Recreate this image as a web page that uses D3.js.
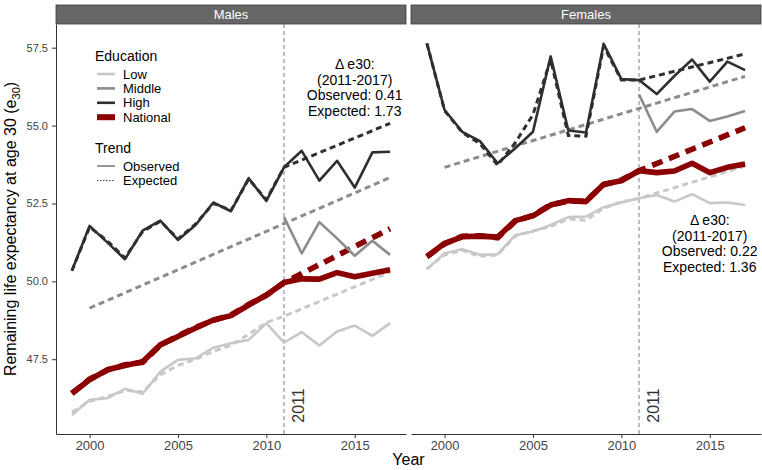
<!DOCTYPE html>
<html>
  <head>
    <meta charset="utf-8">
    <title>Remaining life expectancy at age 30</title>
    <style>
      body { margin: 0; background: #fff; }
      svg { font-family: "Liberation Sans", Arial, Helvetica, sans-serif; }
      .axis text { fill: #444; }
      .axis path, .axis line { stroke: #333; }
    </style>
  </head>
  <body>
    <div id="chart"></div>

    <script src="https://d3js.org/d3.v7.min.js"></script>
    <script>
      const years = [1999, 2000, 2001, 2002, 2003, 2004, 2005, 2006, 2007, 2008,
                     2009, 2010, 2011, 2012, 2013, 2014, 2015, 2016, 2017]
      const panels = ["Males", "Females"]
      const yTicks = [47.5, 50.0, 52.5, 55.0, 57.5]
      const xTicks = [2000, 2005, 2010, 2015]
      const cutYear = 2011

      // males, observed
      const mLowObs  = [45.71, 46.20, 46.25, 46.55, 46.39, 47.10, 47.48, 47.53, 47.87, 48.01, 48.12, 48.66, 48.03, 48.37, 47.94, 48.39, 48.58, 48.25, 48.66]
      const mMidObs  = [null, null, null, null, null, null, null, null, null, null, null, null, 52.06, 50.90, 51.90, 51.38, 50.82, 51.30, 50.85]
      const mHighObs = [50.34, 51.78, 51.25, 50.71, 51.63, 51.95, 51.33, 51.81, 52.53, 52.25, 53.31, 52.58, 53.66, 54.19, 53.23, 53.87, 53.01, 54.14, 54.16]
      const mNatObs  = [46.41, 46.84, 47.16, 47.30, 47.42, 47.96, 48.23, 48.50, 48.76, 48.90, 49.24, 49.56, 49.96, 50.08, 50.07, 50.28, 50.15, 50.26, 50.37]
      // males, expected
      const mLowExp  = [45.80, 46.15, 46.30, 46.50, 46.45, 47.00, 47.30, 47.50, 47.75, 47.95, 48.30, 48.68, 48.88, null, null, null, null, null, 50.30]
      const mMidExp  = [null, 49.14, null, null, null, null, null, null, null, null, null, null, null, null, null, null, null, null, 53.33]
      const mHighExp = [50.34, 51.74, 51.30, 50.75, 51.60, 51.93, 51.36, 51.84, 52.50, 52.28, 53.28, 52.62, 53.66, null, null, null, null, null, 55.07]
      const mNatExp  = [46.40, 46.86, 47.15, 47.32, 47.40, 47.95, 48.25, 48.52, 48.75, 48.92, 49.26, 49.55, 49.96, null, null, null, null, null, 51.69]

      // females, observed
      const fLowObs  = [50.39, 50.90, 51.03, 50.85, 50.87, 51.49, 51.60, 51.81, 52.06, 52.08, 52.38, 52.53, 52.67, 52.77, 52.56, 52.80, 52.51, 52.53, 52.45]
      const fMidObs  = [null, null, null, null, null, null, null, null, null, null, null, null, 56.00, 54.80, 55.45, 55.53, 55.15, 55.29, 55.47]
      const fHighObs = [57.64, 55.50, 54.80, 54.50, 53.79, 54.27, 54.80, 57.22, 54.84, 54.78, 57.62, 56.49, 56.46, 56.01, 56.59, 57.12, 56.41, 57.05, 56.78]
      const fNatObs  = [50.79, 51.22, 51.43, 51.45, 51.42, 51.95, 52.10, 52.45, 52.59, 52.56, 53.12, 53.23, 53.55, 53.49, 53.54, 53.79, 53.49, 53.66, 53.77]
      // females, expected
      const fLowExp  = [50.40, 50.85, 51.00, 50.80, 50.85, 51.45, 51.62, 51.76, 52.00, 51.96, 52.35, 52.55, 52.66, null, null, null, null, null, 53.70]
      const fMidExp  = [null, 53.66, null, null, null, null, null, null, null, null, null, null, null, null, null, null, null, null, 56.58]
      const fHighExp = [57.64, 55.48, 54.78, 54.42, 53.73, 54.45, 55.35, 57.12, 54.68, 54.66, 57.55, 56.46, 56.46, null, null, null, null, null, 57.30]
      const fNatExp  = [50.80, 51.20, 51.45, 51.46, 51.40, 51.93, 52.12, 52.46, 52.57, 52.58, 53.10, 53.25, 53.55, null, null, null, null, null, 54.93]

      const mNotes = ["\u0394 e30:", "(2011-2017)", "Observed: 0.41", "Expected: 1.73"]
      const fNotes = ["\u0394 e30:", "(2011-2017)", "Observed: 0.22", "Expected: 1.36"]
      const noteYear = 2015

      const eduLabels = ["Low", "Middle", "High", "National"]
      const trendLabels = ["Observed", "Expected"]

      const colors = { Low: "#c8c8c8", Middle: "#8c8c8c", High: "#2f2f2f", National: "#8b0000" }
      const widths = { Low: 2.6, Middle: 2.6, High: 2.6, National: 5.6 }
      const dashes = { Low: "6,4", Middle: "6,4", High: "6,4", National: "11,7" }

      const W = 762, H = 470
      const panelW = 350, panelTop = 24, panelBottom = 434
      const panelX = [56, 411]

      const svg = d3.select("#chart").append("svg")
        .attr("width", W).attr("height", H)

      const x = d3.scaleLinear().domain([1998.1, 2017.9]).range([0, panelW])
      const y = d3.scaleLinear().domain([45.10, 58.26]).range([panelBottom - panelTop, 0])

      const line = d3.line()
        .x(d => x(d.year))
        .y(d => y(d.v))

      const toPoints = vals => years.map((yr, i) => ({ year: yr, v: vals[i] })).filter(d => d.v != null)

      const panelData = [
        { obs: { Low: mLowObs, Middle: mMidObs, High: mHighObs, National: mNatObs },
          exp: { Low: mLowExp, Middle: mMidExp, High: mHighExp, National: mNatExp },
          notes: mNotes, noteTop: 69.3 },
        { obs: { Low: fLowObs, Middle: fMidObs, High: fHighObs, National: fNatObs },
          exp: { Low: fLowExp, Middle: fMidExp, High: fHighExp, National: fNatExp },
          notes: fNotes, noteTop: 225 }
      ]

      panels.forEach((name, p) => {
        const g = svg.append("g").attr("transform", "translate(" + panelX[p] + "," + panelTop + ")")
        const d = panelData[p]

        // strip
        svg.append("rect")
          .attr("x", panelX[p]).attr("y", 5)
          .attr("width", panelW).attr("height", panelTop - 5)
          .attr("fill", "#666").attr("stroke", "#3a3a3a").attr("stroke-width", 0.8)
        svg.append("text")
          .attr("x", panelX[p] + panelW / 2).attr("y", 19)
          .attr("text-anchor", "middle")
          .attr("fill", "#fff").attr("font-size", 13)
          .text(name)

        // 2011 reference line
        g.append("line")
          .attr("x1", x(cutYear)).attr("x2", x(cutYear))
          .attr("y1", 0).attr("y2", panelBottom - panelTop)
          .attr("stroke", "#7f7f7f").attr("stroke-width", 1)
          .attr("stroke-dasharray", "4,3")

        g.append("text")
          .attr("transform", "translate(" + (x(cutYear) + 19.5) + "," + (422.7 - panelTop) + ") rotate(-90)")
          .attr("font-size", 16).attr("fill", "#333")
          .text(String(cutYear))

        // expected (dashed) then observed lines
        eduLabels.forEach(k => {
          g.append("path")
            .attr("d", line(toPoints(d.exp[k])))
            .attr("fill", "none")
            .attr("stroke", colors[k])
            .attr("stroke-width", k === "National" ? 5.6 : 3)
            .attr("stroke-dasharray", dashes[k])
        })
        eduLabels.forEach(k => {
          g.append("path")
            .attr("d", line(toPoints(d.obs[k])))
            .attr("fill", "none")
            .attr("stroke", colors[k])
            .attr("stroke-width", widths[k])
            .attr("stroke-linejoin", "round")
        })

        // annotation
        const note = svg.append("text")
          .attr("text-anchor", "middle").attr("font-size", 14).attr("fill", "#000")
        d.notes.forEach((t, i) => {
          note.append("tspan")
            .attr("x", panelX[p] + x(noteYear))
            .attr("y", d.noteTop + i * 15.5)
            .text(t)
        })

        // axes
        g.append("g")
          .attr("class", "axis")
          .attr("transform", "translate(0," + (panelBottom - panelTop) + ")")
          .call(d3.axisBottom(x).tickValues(xTicks).tickFormat(d3.format("d")).tickSize(4).tickSizeOuter(0).tickPadding(3))
          .call(a => a.selectAll("text").attr("font-size", 13).attr("font-family", null))

        if (p === 0) {
          g.append("g")
            .attr("class", "axis")
            .call(d3.axisLeft(y).tickValues(yTicks).tickFormat(d3.format(".1f")).tickSize(4).tickSizeOuter(0).tickPadding(4))
            .call(a => a.selectAll("text").attr("font-size", 11).attr("font-family", null))
        }
      })

      // axis titles
      const yt = svg.append("text")
        .attr("transform", "translate(16," + ((panelTop + panelBottom) / 2) + ") rotate(-90)")
        .attr("text-anchor", "middle").attr("font-size", 16).attr("fill", "#000")
      yt.append("tspan").text("Remaining life expectancy at age 30  (e")
      yt.append("tspan").attr("font-size", 11).attr("dy", 4).text("30")
      yt.append("tspan").attr("dy", -4).text(")")

      svg.append("text")
        .attr("x", (panelX[0] + panelX[1] + panelW) / 2).attr("y", 465)
        .attr("text-anchor", "middle").attr("font-size", 16).attr("fill", "#000")
        .text("Year")

      // legend
      const legend = svg.append("g").attr("fill", "#000")
      legend.append("text").attr("x", 95).attr("y", 61).attr("font-size", 14).text("Education")
      eduLabels.forEach((k, i) => {
        const cy = 74 + i * 14.4
        if (k === "National") {
          legend.append("rect").attr("x", 97).attr("y", cy - 3).attr("width", 18).attr("height", 6)
            .attr("fill", colors[k])
        } else {
          legend.append("line").attr("x1", 97).attr("x2", 115).attr("y1", cy).attr("y2", cy)
            .attr("stroke", colors[k]).attr("stroke-width", widths[k])
        }
        legend.append("text").attr("x", 123).attr("y", cy + 4.5).attr("font-size", 13).text(k)
      })
      legend.append("text").attr("x", 95).attr("y", 153).attr("font-size", 14).text("Trend")
      trendLabels.forEach((k, i) => {
        const cy = 166 + i * 14.6
        legend.append("line").attr("x1", 97).attr("x2", 115).attr("y1", cy).attr("y2", cy)
          .attr("stroke", "#333").attr("stroke-width", 1)
          .attr("stroke-dasharray", k === "Expected" ? "1.5,1.5" : null)
        legend.append("text").attr("x", 123).attr("y", cy + 4.5).attr("font-size", 13).text(k)
      })
    </script>
  </body>
</html>
